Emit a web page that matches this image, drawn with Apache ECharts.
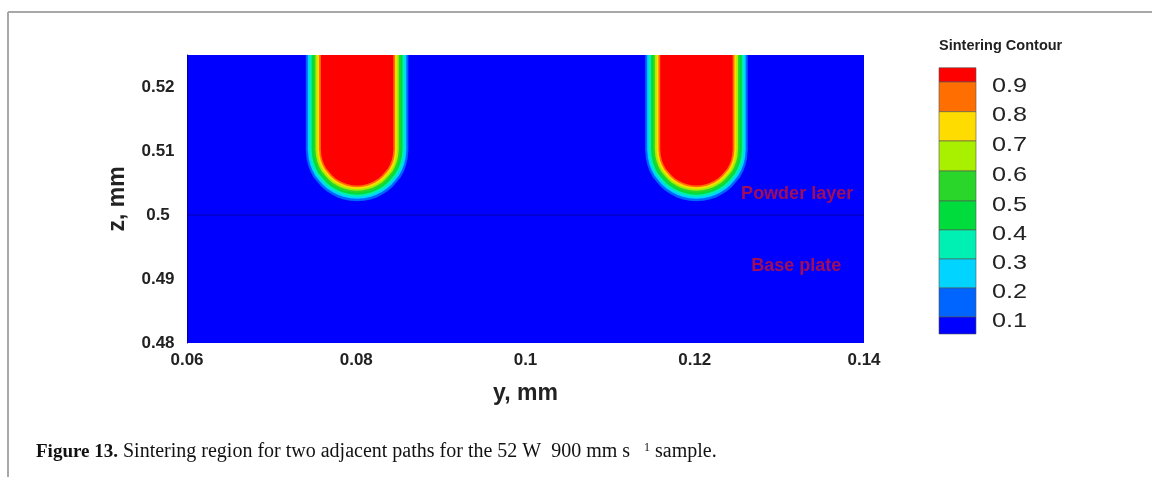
<!DOCTYPE html>
<html>
<head>
<meta charset="utf-8">
<script src="https://cdn.jsdelivr.net/npm/echarts@6/dist/echarts.min.js"></script>
<style>
  html, body { margin: 0; padding: 0; background: #ffffff; }
  #chart { width: 1152px; height: 477px; }
</style>
</head>
<body>
<div id="chart"></div>
<script>
// ---- data ----
const X_TICKS = [0.06, 0.08, 0.1, 0.12, 0.14];
const Z_TICKS = [0.48, 0.49, 0.5, 0.51, 0.52];
const Z_MAX = 0.525;
const POOL_CENTERS = [0.0801, 0.1202];           // y (mm) of the two scan paths
const LEVELS = [0.1, 0.2, 0.3, 0.4, 0.5, 0.6, 0.7, 0.8, 0.9];
const LEVEL_HALF_WIDTH = [0.00606, 0.00582, 0.00560, 0.00537, 0.00514, 0.00492, 0.00470, 0.00449, 0.00428]; // mm
const LEVEL_BOTTOM = [0.50215, 0.50255, 0.50287, 0.50318, 0.50349, 0.50379, 0.50407, 0.50435, 0.50461];       // mm
// shared shape of the rounded pool bottom: height above bottom and width, both as fractions of the half-width
const PROFILE_HEIGHT = [0, 0.01, 0.04, 0.08, 0.13, 0.20, 0.28, 0.37, 0.47, 0.58, 0.70, 0.83, 1.00];
const PROFILE_WIDTH  = [0, 0.14, 0.28, 0.39, 0.49, 0.60, 0.69, 0.77, 0.85, 0.91, 0.955, 0.985, 1.00];
const BAND_COLORS = ['#0000ff', '#0064ff', '#00d4ff', '#00f0b4', '#00dc3c', '#2ad62a', '#a8f000', '#ffdc00', '#ff6e00', '#ff0000'];
const LEGEND_LABELS = ['0.9', '0.8', '0.7', '0.6', '0.5', '0.4', '0.3', '0.2', '0.1'];
const LAYER_LINE_Z = 0.5;
const REGION_LABELS = [
  { name: 'Powder layer', value: [0.1321, 0.50328] },
  { name: 'Base plate', value: [0.1320, 0.49210] }
];

// ---- build series data ----
const poolData = [];
LEVELS.forEach(function (lv, i) {
  POOL_CENTERS.forEach(function (c) {
    poolData.push([c, LEVEL_BOTTOM[i], LEVEL_HALF_WIDTH[i], i]);
  });
});

function renderPool(params, api) {
  const c = api.value(0), bottom = api.value(1), hw = api.value(2), idx = api.value(3);
  const pc = api.coord([c, bottom]);
  const pr = api.coord([c + hw, bottom]);
  const hwPx = pr[0] - pc[0];
  const topPx = api.coord([c, Z_MAX])[1] - 20;
  const right = [], left = [];
  for (let k = 0; k < PROFILE_HEIGHT.length; k++) {
    const x = PROFILE_WIDTH[k] * hwPx;
    const y = pc[1] - PROFILE_HEIGHT[k] * hwPx;
    right.push([pc[0] + x, y]);
    left.unshift([pc[0] - x, y]);
  }
  const pts = left.concat(right.slice(1));
  pts.push([pc[0] + hwPx, topPx]);
  pts.unshift([pc[0] - hwPx, topPx]);
  return {
    type: 'polygon',
    shape: { points: pts },
    style: { fill: BAND_COLORS[idx + 1], stroke: null }
  };
}

// ---- legend graphics ----
const LEG_X = 939, LEG_W = 37;
const LEG_BOUNDS = [67.7, 82, 111.7, 141, 171, 201, 230, 259, 288, 317, 334];
const graphics = [];
for (let i = 0; i < BAND_COLORS.length; i++) {
  const colorIdx = BAND_COLORS.length - 1 - i;
  graphics.push({
    type: 'rect',
    shape: { x: LEG_X, y: LEG_BOUNDS[i], width: LEG_W, height: LEG_BOUNDS[i + 1] - LEG_BOUNDS[i] },
    style: { fill: BAND_COLORS[colorIdx], stroke: '#555', lineWidth: 0.6 }
  });
}
LEGEND_LABELS.forEach(function (t, i) {
  graphics.push({
    type: 'text',
    x: 992, y: LEG_BOUNDS[i + 1] + 4, scaleX: 1.2,
    style: { text: t, fill: '#222', font: '21px "Liberation Sans", Arial, sans-serif', textVerticalAlign: 'middle' }
  });
});
graphics.push({
  type: 'text', x: 939, y: 46,
  style: { text: 'Sintering Contour', fill: '#222', font: 'bold 14.5px "Liberation Sans", Arial, sans-serif', textVerticalAlign: 'middle' }
});
// page frame
graphics.push({ type: 'line', shape: { x1: 8, y1: 12, x2: 1152, y2: 12 }, style: { stroke: '#a8a8a8', lineWidth: 2 } });
graphics.push({ type: 'line', shape: { x1: 8, y1: 12, x2: 8, y2: 477 }, style: { stroke: '#a8a8a8', lineWidth: 2 } });
// caption
graphics.push({
  type: 'text', x: 36, y: 452,
  style: {
    text: '{b|Figure 13.} Sintering region for two adjacent paths for the 52 W  900 mm s {s|\u00a0\u00a0\u00a01} sample.',
    textVerticalAlign: 'middle',
    font: '20px "Liberation Serif", "Times New Roman", serif',
    fill: '#111',
    rich: {
      b: { font: 'bold 19px "Liberation Serif", "Times New Roman", serif', fill: '#111' },
      s: { font: '12px "Liberation Serif", "Times New Roman", serif', fill: '#111', verticalAlign: 'top', padding: [0, 0, 8, 0] }
    }
  }
});

const axisFont = { fontFamily: '"Liberation Sans", Arial, sans-serif', fontWeight: 'bold', fontSize: 17, color: '#222' };
const nameFont = { fontFamily: '"Liberation Sans", Arial, sans-serif', fontWeight: 'bold', fontSize: 23, color: '#222' };

const chart = echarts.init(document.getElementById('chart'), null, { renderer: 'canvas' });
chart.setOption({
  animation: false,
  backgroundColor: '#ffffff',
  grid: { left: 187, right: 288, top: 55, bottom: 134, show: true, backgroundColor: BAND_COLORS[0], borderWidth: 0 },
  xAxis: {
    type: 'value', min: X_TICKS[0], max: X_TICKS[X_TICKS.length - 1], interval: 0.02,
    name: 'y, mm', nameLocation: 'middle', nameGap: 39, nameTextStyle: nameFont,
    axisLine: { show: false }, axisTick: { show: false }, splitLine: { show: false },
    axisLabel: Object.assign({ margin: 9, formatter: function (v) { return String(+v.toFixed(2)); } }, axisFont)
  },
  yAxis: {
    type: 'value', min: Z_TICKS[0], max: Z_MAX, interval: 0.01,
    name: 'z, mm', nameLocation: 'middle', nameGap: 58, nameRotate: 90, nameTextStyle: nameFont,
    axisLine: { show: true, lineStyle: { color: '#0000a0', width: 1 } }, axisTick: { show: false }, splitLine: { show: false },
    axisLabel: Object.assign({ margin: 29, align: 'center', showMaxLabel: false, formatter: function (v) { return String(+v.toFixed(2)); } }, axisFont)
  },
  series: [
    {
      type: 'line', data: [[X_TICKS[0], LAYER_LINE_Z], [X_TICKS[X_TICKS.length - 1], LAYER_LINE_Z]],
      symbol: 'none', lineStyle: { color: '#0000a8', width: 1 }, silent: true, z: 2
    },
    {
      type: 'custom', renderItem: renderPool, data: poolData, clip: true, silent: true, z: 3
    },
    {
      type: 'scatter', data: REGION_LABELS, symbolSize: 1, itemStyle: { color: 'rgba(0,0,0,0)' }, silent: true, z: 4,
      label: { show: true, position: 'inside', formatter: '{b}', color: '#c81030', fontWeight: 'bold', fontSize: 18, fontFamily: '"Liberation Sans", Arial, sans-serif' }
    }
  ],
  graphic: graphics
});
</script>
</body>
</html>
